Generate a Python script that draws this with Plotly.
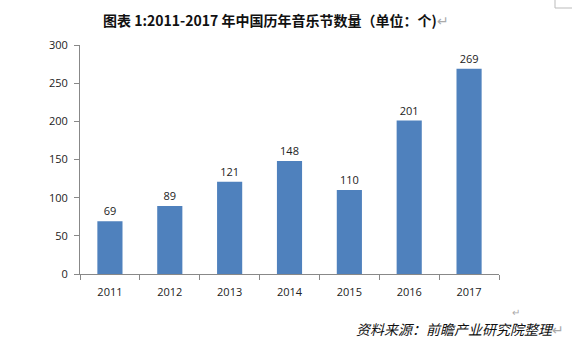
import plotly.graph_objects as go

years = ["2011", "2012", "2013", "2014", "2015", "2016", "2017"]
counts = [69, 89, 121, 148, 110, 201, 269]
y_ticks = [0, 50, 100, 150, 200, 250, 300]

fig = go.Figure(go.Bar(
    x=years, y=counts, text=[str(v) for v in counts], textposition="outside",
    textfont=dict(size=11, color="#222222", family="Open Sans"),
    marker=dict(color="#4f81bd", line=dict(width=0)), width=0.42,
    cliponaxis=False,
))

fig.update_layout(
    width=572, height=349, margin=dict(l=80, r=73, t=45, b=75),
    paper_bgcolor="white", plot_bgcolor="white", showlegend=False,
    font=dict(family="Open Sans", size=11, color="#222222"),
    xaxis=dict(type="category", showline=True, linecolor="#888888", linewidth=1,
               ticks="outside", tickson="boundaries", ticklen=5, tickcolor="#888888",
               showgrid=False, tickfont=dict(size=11), ticklabelstandoff=8),
    yaxis=dict(range=[0, 300], tickvals=y_ticks, showline=True, linecolor="#888888",
               linewidth=1, ticks="outside", ticklen=5, tickcolor="#888888",
               showgrid=False, zeroline=False, tickfont=dict(size=11), ticklabelstandoff=4),
    annotations=[
        dict(text="<b>图表 1:2011-2017 年中国历年音乐节数量（单位：个)</b><span style='color:#aaaaaa'>↵</span>",
             x=276, y=20, showarrow=False,
             font=dict(family="Noto Sans CJK SC", size=14, color="#111111")),
        dict(text="<i>资料来源：前瞻产业研究院整理</i><span style='color:#aaaaaa'>↵</span>",
             x=460, y=329, showarrow=False,
             font=dict(family="Noto Sans CJK SC", size=14, color="#111111")),
        dict(text="<span style='color:#aaaaaa'>↵</span>", x=516, y=311, showarrow=False,
             font=dict(family="Noto Sans CJK SC", size=10)),
    ],
)
# convert pixel positions to paper coords
W, H = 572, 349
l, r, t, b = 80, 73, 45, 75
pw, ph = W - l - r, H - t - b
for a in fig.layout.annotations:
    a.xref = "paper"; a.yref = "paper"
    a.x = (a.x - l) / pw
    a.y = 1 - (a.y - t) / ph
    a.xanchor = "center"; a.yanchor = "middle"

fig.add_shape(type="rect", xref="paper", yref="paper",
              x0=(555 - l) / pw, x1=(575 - l) / pw, y0=1 - (8 - t) / ph, y1=1 - (-2 - t) / ph,
              line=dict(color="#bbbbbb", width=1))

fig.write_html("out.html")
